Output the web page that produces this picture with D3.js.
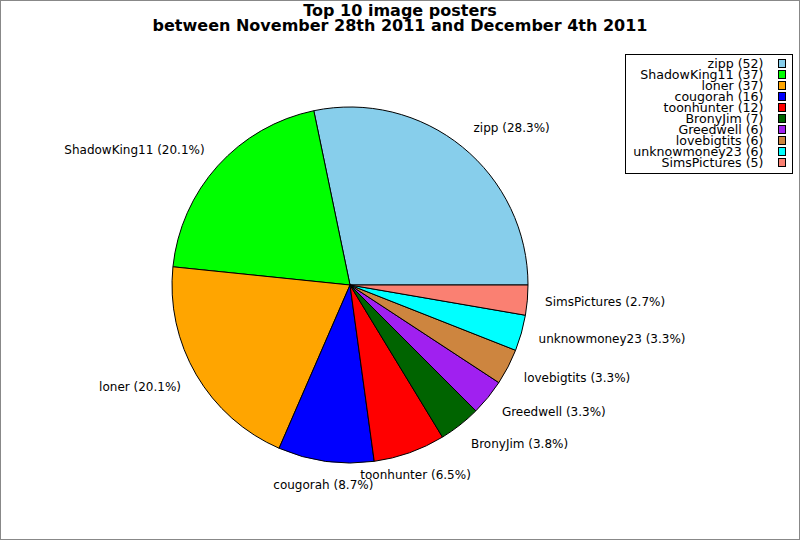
<!DOCTYPE html>
<html>
<head>
<meta charset="utf-8">
<script src="https://cdn.jsdelivr.net/npm/d3@7"></script>
<style>
  body { margin: 0; background: #fff; }
  svg { display: block; }
</style>
</head>
<body>
<svg id="chart"></svg>
<script>
// data
const names = ['zipp', 'ShadowKing11', 'loner', 'cougorah', 'toonhunter', 'BronyJim', 'Greedwell', 'lovebigtits', 'unknowmoney23', 'SimsPictures'];
const counts = [52, 37, 37, 16, 12, 7, 6, 6, 6, 5];
const colors = ['#87ceeb', '#00ff00', '#ffa500', '#0000ff', '#ff0000', '#006400', '#a020f0', '#cd853f', '#00ffff', '#fa8072'];
const titleLines = ['Top 10 image posters', 'between November 28th 2011 and December 4th 2011'];

let width = 800;
let height = 540;
let cx = 350, cy = 285, radius = 178;

let svg = d3.select('#chart').attr('width', width).attr('height', height);

svg.append('rect')
  .attr('x', 0.5).attr('y', 0.5)
  .attr('width', width - 1).attr('height', height - 1)
  .attr('fill', '#fff')
  .attr('stroke', '#888');

let total = d3.sum(counts);
let rows = names.map((n, i) => ({ name: n, value: counts[i], color: colors[i] }));

// counter-clockwise from 3 o'clock
let pie = d3.pie()
  .sort(null)
  .value(d => d.value)
  .startAngle(Math.PI / 2)
  .endAngle(Math.PI / 2 - 2 * Math.PI);

let arc = d3.arc().innerRadius(0).outerRadius(radius);
let labelArc = d3.arc().innerRadius(radius * 1.1).outerRadius(radius * 1.1);

let g = svg.append('g').attr('transform', `translate(${cx},${cy})`);

let slices = pie(rows);

g.selectAll('path')
  .data(slices)
  .enter().append('path')
  .attr('d', arc)
  .attr('fill', d => d.data.color)
  .attr('stroke', '#000')
  .attr('stroke-width', 1)
  .attr('stroke-linejoin', 'round');

let pct = d3.format('.1f');

g.selectAll('text')
  .data(slices)
  .enter().append('text')
  .each(function (d) {
    let [x, y] = labelArc.centroid(d);
    let c = x / (radius * 1.1), s = -y / (radius * 1.1);
    d3.select(this)
      .attr('x', x)
      .attr('y', y - s * 6)
      .attr('text-anchor', c > 0.45 ? 'start' : (c < -0.45 ? 'end' : 'middle'));
  })
  .attr('dominant-baseline', 'central')
  .attr('font-family', 'DejaVu Sans')
  .attr('font-size', '12px')
  .attr('fill', '#000')
  .text(d => `${d.data.name} (${pct(d.data.value / total * 100)}%)`);

// title
svg.append('g').selectAll('text')
  .data(titleLines)
  .enter().append('text')
  .attr('x', 400)
  .attr('y', (d, i) => 16 + i * 14.5)
  .attr('text-anchor', 'middle')
  .attr('font-family', 'DejaVu Sans')
  .attr('font-weight', 'bold')
  .attr('font-size', '16px')
  .text(d => d);

// legend
let legend = svg.append('g').attr('transform', 'translate(625.5,54.5)');
legend.append('rect')
  .attr('width', 167).attr('height', 119)
  .attr('fill', '#fff')
  .attr('stroke', '#000');

let item = legend.selectAll('g.item')
  .data(rows)
  .enter().append('g')
  .attr('class', 'item')
  .attr('transform', (d, i) => `translate(0,${9 + i * 11})`);

item.append('text')
  .attr('x', 138)
  .attr('y', 0)
  .attr('dominant-baseline', 'central')
  .attr('text-anchor', 'end')
  .attr('font-family', 'DejaVu Sans')
  .attr('font-size', '12.6px')
  .text(d => `${d.name} (${d.value})`);

item.append('rect')
  .attr('x', 153).attr('y', -4)
  .attr('width', 7).attr('height', 8)
  .attr('fill', d => d.color)
  .attr('stroke', '#000');
</script>
</body>
</html>
